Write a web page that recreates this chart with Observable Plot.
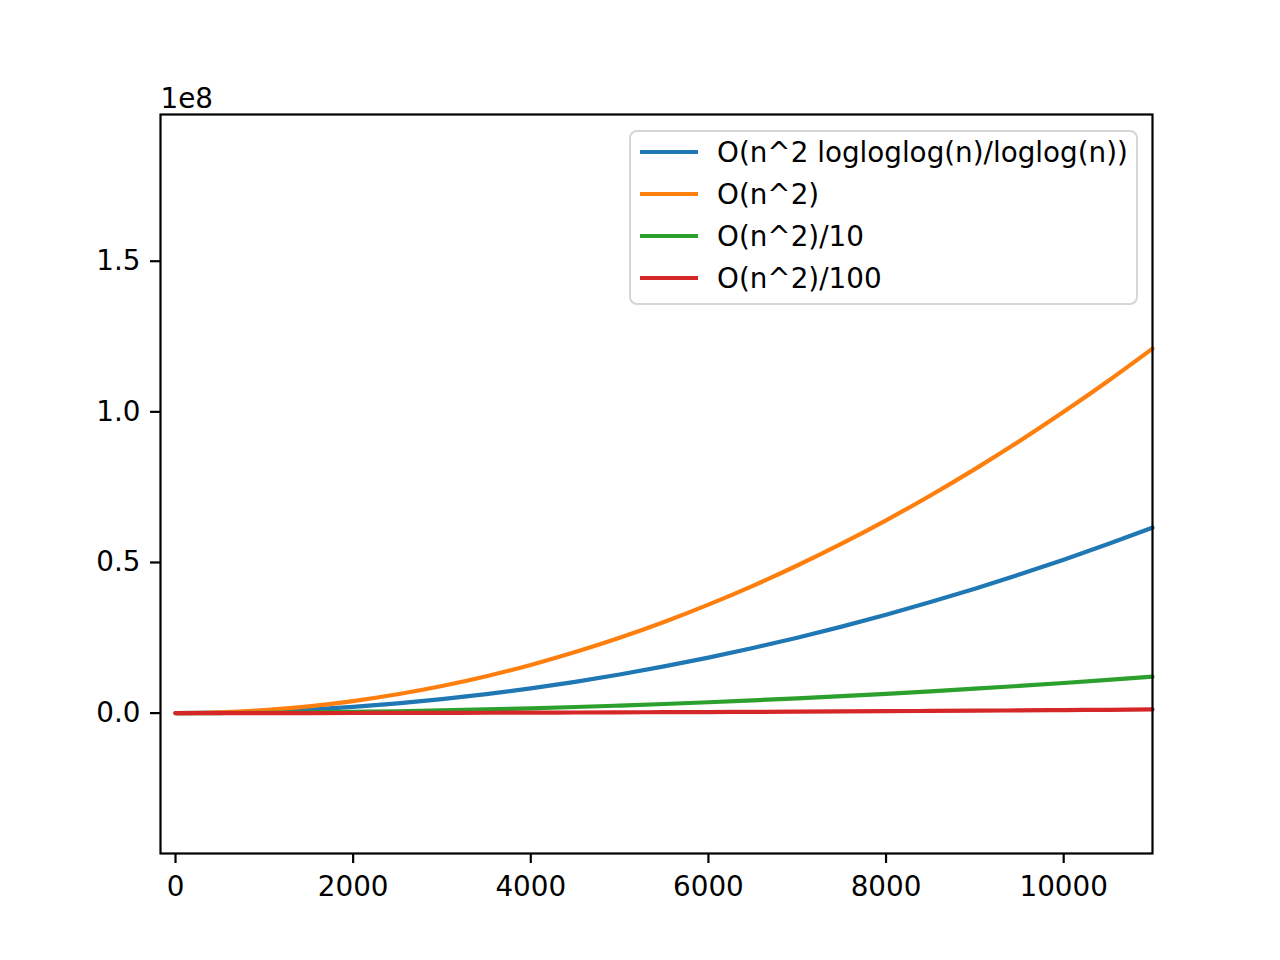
<!DOCTYPE html>
<html>
<head>
<meta charset="utf-8">
<script src="https://cdn.jsdelivr.net/npm/d3@7"></script>
<script src="https://cdn.jsdelivr.net/npm/@observablehq/plot@0.6"></script>
<style>
  html, body { margin: 0; padding: 0; background: #fff; }
  #wrap { position: relative; width: 1280px; height: 960px; font-family: "DejaVu Sans", sans-serif; }
  #legend { position: absolute; left: 629px; top: 130px; width: 505px; height: 171px;
    border: 2px solid #d6d6d6; border-radius: 8px; background: rgba(255,255,255,0.8); }
  .sw { position: absolute; left: 9px; width: 58px; height: 4px; }
  .lab { position: absolute; left: 86px; font-size: 27.8px; white-space: nowrap; line-height: 1; color: #000; }
</style>
</head>
<body>
<div id="wrap"><div id="chart"></div><div id="legend"></div></div>
<script>
// x values (n)
const xs = [0,500,1000,1500,2000,2500,3000,3500,4000,4500,5000,5500,6000,6500,7000,7500,8000,8500,9000,9500,10000,10500,11000];
// values in units of 1e8
const seriesBlue = [0,0.00131,0.00522,0.01168,0.02071,0.03228,0.0464,0.06306,0.0822,0.1039,0.1282,0.1550,0.1842,0.2161,0.2504,0.2872,0.3266,0.3685,0.4128,0.4597,0.5091,0.5610,0.6155];
const seriesOrange = [0,0.0025,0.01,0.0225,0.04,0.0625,0.09,0.1225,0.16,0.2025,0.25,0.3025,0.36,0.4225,0.49,0.5625,0.64,0.7225,0.81,0.9025,1.0,1.1025,1.21];
const seriesGreen = [0,0.00025,0.001,0.00225,0.004,0.00625,0.009,0.01225,0.016,0.02025,0.025,0.03025,0.036,0.04225,0.049,0.05625,0.064,0.07225,0.081,0.09025,0.1,0.11025,0.121];
const seriesRed = [0,0.000025,0.0001,0.000225,0.0004,0.000625,0.0009,0.001225,0.0016,0.002025,0.0025,0.003025,0.0036,0.004225,0.0049,0.005625,0.0064,0.007225,0.0081,0.009025,0.01,0.011025,0.0121];
const seriesNames = ["O(n^2 logloglog(n)/loglog(n))","O(n^2)","O(n^2)/10","O(n^2)/100"];
const seriesColors = ["#1f77b4","#ff7f0e","#2ca02c","#d62728"];
const xTicks = [0,2000,4000,6000,8000,10000];
const yTicks = [0,0.5,1.0,1.5];
const offsetLabel = "1e8";

const allSeries = [seriesBlue, seriesOrange, seriesGreen, seriesRed];
const data = allSeries.flatMap((vals, i) => vals.map((v, j) => ({x: xs[j], y: v, s: seriesNames[i]})));

const chart = Plot.plot({
  width: 1280, height: 960,
  marginLeft: 160, marginRight: 128, marginTop: 114, marginBottom: 107,
  style: {fontFamily: "DejaVu Sans, sans-serif", fontSize: "27.8px", color: "#000", background: "transparent"},
  x: {domain: [-169, 11000]},
  y: {domain: [-0.466, 1.987]},
  color: {domain: seriesNames, range: seriesColors},
  marks: [
    ...seriesNames.map(name => Plot.line(data.filter(d => d.s === name), {x: "x", y: "y", stroke: "s", strokeWidth: 4.2, curve: "monotone-x"})),
    Plot.frame({stroke: "#000", strokeWidth: 2.2}),
    Plot.axisX({ticks: xTicks, tickSize: 10, tickPadding: 13, strokeWidth: 2.2, tickFormat: d => String(d), label: null}),
    Plot.axisY({ticks: yTicks, tickSize: 10, tickPadding: 10, strokeWidth: 2.2, tickFormat: d => d.toFixed(1), label: null}),
    Plot.text([offsetLabel], {frameAnchor: "top-left", text: d => d, textAnchor: "start", lineAnchor: "bottom", dy: -7, fontSize: 27.8})
  ]
});
document.getElementById("chart").appendChild(chart);

const legend = document.getElementById("legend");
seriesNames.forEach((name, i) => {
  const top = 20 + i * 42 - 2;
  const sw = document.createElement("div");
  sw.className = "sw"; sw.style.background = seriesColors[i]; sw.style.top = top + "px";
  const lab = document.createElement("div");
  lab.className = "lab"; lab.textContent = name; lab.style.top = (top - 11) + "px";
  legend.appendChild(sw); legend.appendChild(lab);
});
</script>
</body>
</html>
